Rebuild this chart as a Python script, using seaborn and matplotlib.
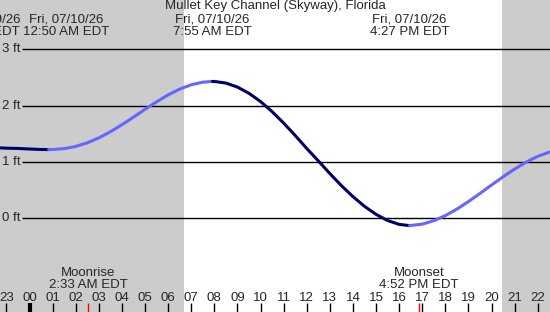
import pandas as pd
import matplotlib
matplotlib.use("Agg")
import matplotlib.pyplot as plt
import seaborn as sns

# hours since midnight 07/10/26 and tide height (ft)
falling_1_hours = [-1.28, -1.0, -0.5, 0.0, 0.5, 0.83]
falling_1_ft = [1.25, 1.245, 1.24, 1.23, 1.222, 1.22]
rising_1_hours = [0.83, 1.0, 1.5, 2.0, 2.5, 3.0, 3.5, 4.0, 4.5, 5.0, 5.5, 6.0,
                  6.5, 7.0, 7.5, 7.92]
rising_1_ft = [1.22, 1.221, 1.237, 1.276, 1.340, 1.428, 1.536, 1.661, 1.796,
               1.934, 2.068, 2.191, 2.294, 2.371, 2.417, 2.43]
falling_2_hours = [7.92, 8.0, 8.5, 9.0, 9.5, 10.0, 10.5, 11.0, 11.5, 12.0, 12.5,
                   13.0, 13.5, 14.0, 14.5, 15.0, 15.5, 16.0, 16.45]
falling_2_ft = [2.43, 2.43, 2.401, 2.330, 2.219, 2.073, 1.894, 1.691, 1.470,
                1.240, 1.020, 0.795, 0.580, 0.385, 0.212, 0.070, -0.040,
                -0.108, -0.13]
rising_2_hours = [16.45, 17.0, 17.5, 18.0, 18.5, 19.0, 19.5, 20.0, 20.5, 21.0,
                  21.5, 22.0, 22.53]
rising_2_ft = [-0.13, -0.104, -0.043, 0.048, 0.163, 0.297, 0.441, 0.591,
               0.737, 0.875, 0.998, 1.100, 1.178]

sunrise = 6.69
sunset = 20.45
moonrise = 2.55
moonset = 16.87

hour_ticks = list(range(-1, 23))
hour_labels = ["%02d" % (h % 24) for h in hour_ticks]
ft_ticks = [0, 1, 2, 3]

title = "Mullet Key Channel (Skyway), Florida"
prev_label = "Thu, 07/09/26\n6:41 PM EDT"   # mostly off the left edge
extreme_labels = [
    ("Fri, 07/10/26\n12:50 AM EDT", 1.58),
    ("Fri, 07/10/26\n7:55 AM EDT", 7.92),
    ("Fri, 07/10/26\n4:27 PM EDT", 16.45),
]

DARK = "#000066"
LIGHT = "#6666ff"
GRAY = "#cccccc"
FS = 9.5

def main():
    segs = []
    for i, (hrs, ft, kind) in enumerate([
        (falling_1_hours, falling_1_ft, "falling"),
        (rising_1_hours, rising_1_ft, "rising"),
        (falling_2_hours, falling_2_ft, "falling"),
        (rising_2_hours, rising_2_ft, "rising"),
    ]):
        segs.append(pd.DataFrame({"hour": hrs, "ft": ft, "seg": i, "kind": kind}))
    df = pd.concat(segs, ignore_index=True)

    sns.set_style("white")
    plt.rcParams["font.family"] = ["Liberation Sans", "DejaVu Sans"]

    fig = plt.figure(figsize=(5.5, 3.12), dpi=100)
    ax = fig.add_axes([0, 0, 1, 1])
    xmin, xmax = -1.277, 22.53
    ymin, ymax = -1.664, 3.876

    # night shading
    ax.axvspan(xmin, sunrise, color=GRAY, lw=0, zorder=0)
    ax.axvspan(sunset, xmax, color=GRAY, lw=0, zorder=0)

    # height grid
    ax.hlines(ft_ticks, -0.33, xmax, color="black", lw=1.0, zorder=1)
    for f in ft_ticks:
        ax.text(-1.19, f, "%d ft" % f, ha="left", va="center", fontsize=FS, zorder=2)

    for seg, d in df.groupby("seg"):
        col = DARK if d["kind"].iloc[0] == "falling" else LIGHT
        sns.lineplot(data=d, x="hour", y="ft", color=col, lw=2.2, ax=ax,
                     sort=False, estimator=None, zorder=3)
    ax.set_xlim(xmin, xmax)
    ax.set_ylim(ymin, ymax)
    ax.axis("off")

    # header text
    fig.text(0.5, 1 - 6.5 / 312, title, ha="center", va="center", fontsize=FS)
    ax.text(-0.41, 3.427, prev_label, ha="right", va="center", fontsize=FS,
            linespacing=1.05, multialignment="right")
    for txt, hx in extreme_labels:
        ax.text(hx, 3.427, txt, ha="center", va="center", fontsize=FS,
                linespacing=1.05)

    # hour ticks along bottom
    for h, lab in zip(hour_ticks, hour_labels):
        ax.text(h, -1.408, lab, ha="center", va="center", fontsize=FS)
        ax.vlines(h, ymin, -1.506, color="black", lw=3 if h == 0 else 1, zorder=4)
    ax.vlines([moonrise, moonset], ymin, -1.506, color="red", lw=1, zorder=4)

    ax.text(moonrise, -1.08, "Moonrise\n2:33 AM EDT", ha="center", va="center",
            fontsize=FS, linespacing=1.05)
    ax.text(moonset, -1.08, "Moonset\n4:52 PM EDT", ha="center", va="center",
            fontsize=FS, linespacing=1.05)

    fig.savefig("out.png", dpi=100)
    plt.close(fig)

if __name__ == "__main__":
    main()
